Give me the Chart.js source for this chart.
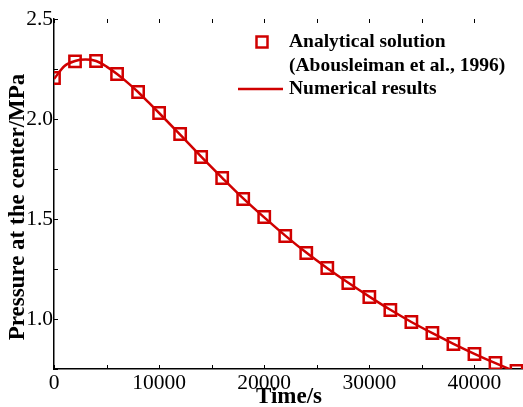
<!DOCTYPE html>
<html>
<head>
<meta charset="utf-8">
<script src="https://cdn.jsdelivr.net/npm/chart.js@4/dist/chart.umd.min.js"></script>
<style>
  body { margin: 0; overflow: hidden; background: #fff; }
  #wrap { width: 540px; height: 407px; }
</style>
</head>
<body>
<div id="wrap"><canvas id="chart" width="540" height="407"></canvas></div>
<script>
// analytical solution (markers)
const analyticT = [0, 2000, 4000, 6000, 8000, 10000, 12000, 14000, 16000, 18000, 20000, 22000,
  24000, 26000, 28000, 30000, 32000, 34000, 36000, 38000, 40000, 42000, 44000];
const analyticP = [2.205, 2.288, 2.29, 2.225, 2.135, 2.03, 1.925, 1.81, 1.705, 1.6, 1.51, 1.415,
  1.33, 1.255, 1.18, 1.11, 1.045, 0.985, 0.93, 0.875, 0.825, 0.78, 0.74];

// numerical results (line)
const numT = [0, 1000, 2000, 3000, 4000, 5000, 6000, 7000, 8000, 9000, 10000, 12000, 14000, 16000,
  18000, 20000, 22000, 24000, 26000, 28000, 30000, 32000, 34000, 36000, 38000, 40000, 42000, 44000, 46000];
const numP = [2.2, 2.265, 2.29, 2.297, 2.29, 2.262, 2.225, 2.182, 2.135, 2.083, 2.03, 1.922, 1.812, 1.706,
  1.603, 1.508, 1.417, 1.332, 1.254, 1.181, 1.112, 1.046, 0.985, 0.929, 0.876, 0.826, 0.779, 0.735, 0.695];

const xTicks = [0, 10000, 20000, 30000, 40000];
const yTicks = [1.0, 1.5, 2.0, 2.5];

const red = "rgb(208, 0, 0)";
const serif = "'Liberation Serif', 'Times New Roman', serif";

// inward tick marks, legend and axis titles
const decor = {
  id: "decor",
  afterDraw(chart) {
    const c = chart.ctx;
    const a = chart.chartArea;
    const xs = chart.scales.x;
    const ys = chart.scales.y;
    c.save();
    c.strokeStyle = "#000";
    c.lineWidth = 1;
    for (let t = 0; t <= 45000; t += 5000) {
      const px = Math.round(xs.getPixelForValue(t)) + 0.5;
      c.beginPath();
      c.moveTo(px, a.bottom); c.lineTo(px, a.bottom - 4);
      c.moveTo(px, a.top); c.lineTo(px, a.top + 4);
      c.stroke();
    }
    for (let v = 0.75; v <= 2.5; v += 0.25) {
      const py = Math.round(ys.getPixelForValue(v)) + 0.5;
      c.beginPath();
      c.moveTo(a.left, py); c.lineTo(a.left + 4, py);
      c.moveTo(a.right, py); c.lineTo(a.right - 4, py);
      c.stroke();
    }

    // legend
    c.strokeStyle = red;
    c.lineWidth = 2.5;
    c.strokeRect(256.5, 36.5, 11, 11);
    c.beginPath();
    c.moveTo(238, 89); c.lineTo(283, 89);
    c.stroke();
    c.fillStyle = "#000";
    c.font = "bold 19.5px " + serif;
    c.textAlign = "left";
    c.textBaseline = "middle";
    c.fillText("Analytical solution", 289, 42);
    c.fillText("(Abousleiman et al., 1996)", 289, 66);
    c.fillText("Numerical results", 289, 89);

    // axis titles
    c.font = "bold 23px " + serif;
    c.textAlign = "center";
    c.fillText("Time/s", 289, 397);
    c.translate(18, 207);
    c.rotate(-Math.PI / 2);
    c.fillText("Pressure at the center/MPa", 0, 0);
    c.restore();
  }
};

new Chart(document.getElementById("chart"), {
  type: "scatter",
  data: {
    datasets: [
      {
        label: "Numerical results",
        data: numT.map((t, i) => ({ x: t, y: numP[i] })),
        showLine: true,
        borderColor: red,
        borderWidth: 2.5,
        pointRadius: 0,
        cubicInterpolationMode: "monotone",
      },
      {
        label: "Analytical solution",
        data: analyticT.map((t, i) => ({ x: t, y: analyticP[i] })),
        showLine: false,
        pointStyle: "rect",
        pointRadius: 8,
        borderColor: red,
        borderWidth: 2.5,
        backgroundColor: "rgba(0,0,0,0)",
      },
    ],
  },
  options: {
    responsive: false,
    animation: false,
    layout: { padding: { top: 19, right: 13, left: 0, bottom: 0 } },
    plugins: { legend: { display: false }, tooltip: { enabled: false } },
    scales: {
      x: {
        type: "linear",
        min: 0,
        max: 45000,
        afterBuildTicks: (s) => { s.ticks = xTicks.map((v) => ({ value: v })); },
        afterFit: (s) => { s.height = 38; },
        grid: { display: false, drawTicks: false },
        border: { display: true, color: "#000", width: 1.5 },
        ticks: {
          color: "#000",
          padding: 1,
          maxRotation: 0,
          font: { family: serif, size: 21.5 },
          callback: (v) => String(v),
        },
      },
      y: {
        type: "linear",
        min: 0.75,
        max: 2.5,
        afterBuildTicks: (s) => { s.ticks = yTicks.map((v) => ({ value: v })); },
        afterFit: (s) => { s.width = 54; },
        grid: { display: false, drawTicks: false },
        border: { display: true, color: "#000", width: 1.5 },
        ticks: {
          color: "#000",
          padding: 1,
          font: { family: serif, size: 21.5 },
          callback: (v) => v.toFixed(1),
        },
      },
    },
  },
  plugins: [decor],
});
</script>
</body>
</html>
